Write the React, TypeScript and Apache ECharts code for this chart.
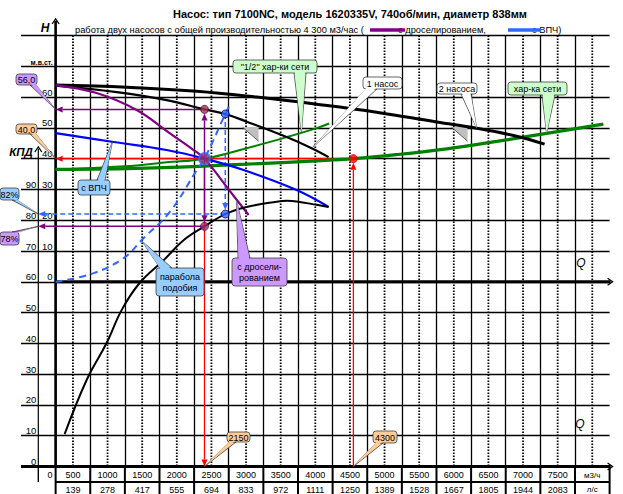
import React, { useEffect, useRef } from 'react';
import * as echarts from 'echarts';

type Pt = [number, number];

// Head curves: Q (м3/ч) -> H (м вод. ст.)
const twoPumpsCurve: Pt[] = [[0, 63.9], [1025, 63.2], [2036, 61.9], [2902, 60.0], [3769, 57.7], [4635, 55.1], [5502, 51.9], [6079, 49.9], [6657, 47.3], [7061, 44.7]];
const onePumpCurve: Pt[] = [[0, 63.7], [881, 61.6], [1603, 59.0], [2150, 56.0], [2450, 54.5], [2760, 52.0], [3336, 47.0], [3697, 43.4], [3942, 40.5]];
const throttledCurve: Pt[] = [[0, 63.9], [592, 61.3], [1170, 55.8], [1646, 48.3], [1993, 42.8], [2150, 40.0], [2498, 30.0], [2787, 21.7]];
const vfdCurve: Pt[] = [[0, 48.3], [838, 45.4], [1603, 42.8], [2150, 40.0], [2715, 36.3], [3480, 29.8], [3942, 24.3]];
const networkCurve: Pt[] = [[0, 36.5], [1310, 36.9], [2760, 38.2], [3770, 39.3], [4300, 40.0], [4920, 41.3], [5650, 43.2], [6370, 45.6], [7090, 48.2], [7910, 51.2]];
const halfNetworkCurve: Pt[] = [[0, 36.5], [1000, 37.5], [1600, 38.8], [2150, 40.0], [2760, 43.4], [3340, 47.0], [3770, 49.9], [3950, 51.4]];
const similarityParabola: Pt[] = [[0, 0], [549, 2.8], [982, 7.7], [1271, 14.2], [1646, 22.6], [2040, 36.3], [2150, 40.0], [2450, 54.5], [2513, 57.5]];
// Efficiency: Q (м3/ч) -> КПД (%)
const efficiencyCurve: Pt[] = [[130, 10.5], [448, 28.1], [736, 40.1], [953, 50.8], [1213, 59.6], [1560, 67.0], [1848, 73.5], [2150, 78], [2450, 82], [2758, 84.3], [3191, 86.0], [3340, 86.3], [3480, 86.1], [3769, 85.0], [3942, 84.3]];

// Operating points
const flowTotal = 4300;
const flowPerPump = 2150;
const headNetwork = 40;
const headThrottled = 56;
const flowVfdFull = 2450;
const headVfdFull = 54.5;
const effThrottled = 78;
const effVfd = 82;

// Flow scale printed under the grid
const flowM3h = [500, 1000, 1500, 2000, 2500, 3000, 3500, 4000, 4500, 5000, 5500, 6000, 6500, 7000, 7500];
const flowLs = [139, 278, 417, 555, 694, 833, 972, 1111, 1250, 1389, 1528, 1667, 1805, 1944, 2083];

const FONT = '"Liberation Sans", Arial, sans-serif';
const LAV = '#CC99FF';
const PEACH = '#FFCC99';
const SKY = '#99CCFF';
const MINT = '#CCFFCC';
const PURPLE = '#800080';
const DOT_PURPLE = '#993366';
const LIGHT_BLUE = '#3366FF';

const comma = (v: number) => v.toFixed(1).replace('.', ',');

export default function App() {
  const ref = useRef<HTMLDivElement>(null);

  useEffect(() => {
    const el = ref.current;
    if (!el) return;
    const chart = echarts.init(el, null, { renderer: 'svg' });

    const curve = (data: Pt[], color: string, width: number, yAxisIndex = 0, dash?: number[]) => ({
      type: 'line',
      data,
      yAxisIndex,
      symbol: 'none',
      showSymbol: false,
      smooth: 0.4,
      silent: true,
      z: 4,
      lineStyle: { color, width, type: dash ?? 'solid' },
    });

    const dot = (value: Pt, size: number, color: string, border: string, bw = 1) => ({
      value,
      symbolSize: size,
      itemStyle: { color, borderColor: border, borderWidth: bw },
    });

    chart.setOption({
      animation: false,
      backgroundColor: '#ffffff',
      grid: { left: 21, right: 13.4, top: 35.5, bottom: 27.5, containLabel: false, outerBoundsMode: 'none' },
      xAxis: {
        type: 'value', min: -500, max: 8000, interval: 500,
        axisLine: { show: false }, axisTick: { show: false }, axisLabel: { show: false },
        splitLine: { show: true, showMinLine: false, showMaxLine: false, lineStyle: { color: '#000', width: 1.3 } },
      },
      yAxis: [
        {
          type: 'value', min: -60, max: 80, interval: 10, position: 'left', offset: -34.6,
          axisLine: { show: false, onZero: false }, axisTick: { show: false },
          axisLabel: {
            margin: 3, verticalAlign: 'bottom', color: '#000', fontFamily: FONT, fontSize: 9.5,
            formatter: (v: number) => (v === 70 ? '{u|м.в.ст.}' : v >= 0 && v <= 60 ? String(v) : ''),
            rich: { u: { fontSize: 7, fontWeight: 'bold', fontFamily: FONT, color: '#000' } },
          },
          splitLine: { show: true, showMinLine: false, showMaxLine: true, lineStyle: { color: '#000', width: 1.3 } },
        },
        {
          type: 'value', min: 0, max: 140, interval: 10, position: 'left', offset: -17.3,
          axisLine: { show: false, onZero: false }, axisTick: { show: false },
          axisLabel: {
            margin: 2, verticalAlign: 'bottom', color: '#000', fontFamily: FONT, fontSize: 9.5,
            formatter: (v: number) => (v <= 90 ? String(v) : ''),
          },
          splitLine: { show: false },
        },
      ],
      series: [
        curve(networkCurve, '#008000', 3.2),
        curve(halfNetworkCurve, '#008000', 2),
        curve(twoPumpsCurve, '#000', 3),
        curve(onePumpCurve, '#000', 2.2),
        curve(throttledCurve, PURPLE, 2.2),
        curve(vfdCurve, '#0000FF', 2.2),
        curve(similarityParabola, LIGHT_BLUE, 2, 0, [7, 5]),
        curve(efficiencyCurve, '#000', 2, 1),
        {
          type: 'scatter', yAxisIndex: 0, z: 6, silent: true,
          data: [
            dot([flowPerPump, headThrottled], 8, DOT_PURPLE, '#660033'),
            dot([flowPerPump, headNetwork], 11, DOT_PURPLE, LIGHT_BLUE, 2),
            dot([flowTotal, headNetwork], 8, '#FF0000', '#CC0000'),
            dot([flowVfdFull, headVfdFull], 8, LIGHT_BLUE, '#000080'),
          ],
        },
        {
          type: 'scatter', yAxisIndex: 1, z: 6, silent: true,
          data: [
            dot([flowPerPump, effThrottled], 8, DOT_PURPLE, '#660033'),
            dot([flowVfdFull, effVfd], 8, LIGHT_BLUE, '#000080'),
          ],
        },
      ],
    });

    const P = (q: number, h: number) => chart.convertToPixel({ xAxisIndex: 0, yAxisIndex: 0 }, [q, h]) as number[];
    const K = (q: number, k: number) => chart.convertToPixel({ xAxisIndex: 0, yAxisIndex: 1 }, [q, k]) as number[];

    const g: any[] = [];
    const seg = (x1: number, y1: number, x2: number, y2: number, stroke: string, lineWidth: number, z = 2, lineDash?: number[]) => ({
      type: 'line', silent: true, z, shape: { x1, y1, x2, y2 }, style: { stroke, lineWidth, lineDash },
    });
    const chevron = (tx: number, ty: number, dx: number, dy: number, size = 5) => {
      const nx = -dy, ny = dx;
      return {
        type: 'polyline', silent: true, z: 2,
        shape: { points: [[tx - dx * size + nx * size * 0.7, ty - dy * size + ny * size * 0.7], [tx, ty], [tx - dx * size - nx * size * 0.7, ty - dy * size - ny * size * 0.7]] },
        style: { stroke: '#000', lineWidth: 1.3, fill: null },
      };
    };
    const text = (t: string, x: number, y: number, font: string, align = 'left', z = 10, fill = '#000') => ({
      type: 'text', silent: true, z, style: { text: t, x, y, font, fill, align, verticalAlign: 'middle' },
    });

    const top = P(0, 80)[1];
    const bottom = P(0, -60)[1];
    const yZero = P(0, 0)[1];
    const x0 = P(0, 0)[0];
    const xStart = P(-500, 0)[0];
    const xEnd = P(8000, 0)[0];
    const xKpd = P(-250, 0)[0];

    // dotted half-step verticals
    for (let q = 250; q < 8000; q += 500) {
      const x = P(q, 0)[0];
      g.push(seg(x, top, x, bottom, '#000', 1.8, 1, [1.5, 1.5]));
    }

    // axes with arrows
    g.push(seg(x0, bottom, x0, 21, '#000', 2.6));
    g.push(chevron(x0, 19, 0, -1));
    g.push(seg(xKpd, bottom, xKpd, 149, '#000', 1.2));
    g.push(chevron(xKpd, 147, 0, -1));
    g.push(seg(x0, yZero, xEnd + 1, yZero, '#000', 3));
    g.push(chevron(xEnd + 3, yZero, 1, 0));
    g.push(seg(xStart, bottom, xEnd + 1, bottom, '#000', 3));
    g.push(chevron(xEnd + 3, bottom, 1, 0));

    // flow scale table
    const rowSplit = bottom + 15.5;
    for (let q = 0; q <= 8000; q += 500) {
      const x = P(q, 0)[0];
      g.push(seg(x, bottom, x, 494, '#000', 2));
    }
    g.push(seg(xKpd, bottom, xKpd, rowSplit, '#000', 1.4));
    g.push(seg(x0, rowSplit, xEnd, rowSplit, '#000', 2));
    const row1 = bottom + 8.5;
    const row2 = rowSplit + 7.5;
    const cellFont = `9px ${FONT}`;
    g.push(text('0', x0 - 3, row1, cellFont, 'right'));
    flowM3h.forEach((v, i) => {
      const cx = (P(v - 500, 0)[0] + P(v, 0)[0]) / 2;
      g.push(text(String(v), cx, row1, cellFont, 'center'));
      g.push(text(String(flowLs[i]), cx, row2, cellFont, 'center'));
    });
    const unitX = (P(7500, 0)[0] + P(8000, 0)[0]) / 2;
    g.push(text('м3/ч', unitX, row1, `8px ${FONT}`, 'center'));
    g.push(text('л/с', unitX, row2, `8px ${FONT}`, 'center'));

    // axis names
    g.push(text('H', 45, 28, `bold italic 12px ${FONT}`, 'center'));
    g.push(text('КПД', 21, 152, `bold italic 11.5px ${FONT}`, 'center'));
    g.push(text('Q', 581, 263, `italic 12px ${FONT}`, 'center'));
    g.push(text('Q', 580, 424, `italic 12px ${FONT}`, 'center'));

    // title and legend row
    g.push(text('Насос: тип 7100NC, модель 1620335V, 740об/мин, диаметр 838мм', 350, 14, `bold 11px ${FONT}`, 'center'));
    g.push(text(`работа двух насосов с общей производительностью 4 300 м3/час (`, 75, 30, `9.3px ${FONT}`));
    g.push(text('с дроселированием,', 398, 30, `9.3px ${FONT}`));
    g.push(text('с ВПЧ)', 532, 30, `9.3px ${FONT}`));
    g.push(seg(370, 30, 405, 30, PURPLE, 3.5, 11));
    g.push(seg(508, 30, 541, 30, LIGHT_BLUE, 3.5, 11));

    // arrows between operating points and scales
    const arrow = (a: number[], b: number[], color: string, width: number, dash?: number[], shorten = 0) => {
      const dx = b[0] - a[0], dy = b[1] - a[1];
      const len = Math.hypot(dx, dy) || 1;
      const ux = dx / len, uy = dy / len;
      const tip = [b[0] - ux * shorten, b[1] - uy * shorten];
      const L = 7, W = 3;
      const base = [tip[0] - ux * L, tip[1] - uy * L];
      g.push(seg(a[0], a[1], base[0], base[1], color, width, 3, dash));
      g.push({
        type: 'polygon', silent: true, z: 3,
        shape: { points: [tip, [base[0] - uy * W, base[1] + ux * W], [base[0] + uy * W, base[1] - ux * W]] },
        style: { fill: color },
      });
    };
    arrow(P(flowTotal, headNetwork), P(0, headNetwork), '#FF0000', 1.3);
    arrow(P(flowPerPump, headNetwork), P(flowPerPump, -60), '#FF0000', 1.3);
    arrow(P(flowTotal, -60), P(flowTotal, headNetwork), '#FF0000', 1.3, undefined, 4);
    arrow(P(flowPerPump, headThrottled), P(0, headThrottled), PURPLE, 1.5);
    arrow(P(flowPerPump, headNetwork), P(flowPerPump, headThrottled), PURPLE, 1.5, undefined, 4);
    arrow(P(flowPerPump, headNetwork), K(flowPerPump, effThrottled), PURPLE, 1.5, undefined, 4);
    arrow(K(flowPerPump, effThrottled), K(-250, effThrottled), PURPLE, 1.5);
    arrow(P(flowVfdFull, headVfdFull), K(flowVfdFull, effVfd), LIGHT_BLUE, 1.5, [5, 3], 4);
    arrow(K(flowVfdFull, effVfd), K(-250, effVfd), LIGHT_BLUE, 1.5, [5, 3]);

    // small shaded wedges
    const wedge = (at: number[]) => {
      const [x, y] = at;
      g.push({ type: 'polygon', silent: true, z: 3, shape: { points: [[x, y], [x + 16, y], [x + 16, y + 14]] }, style: { fill: '#C0C0C0' } });
      g.push(seg(x, y, x + 16, y + 14, '#404040', 0.8, 3));
    };
    wedge(P(2700, 50.2));
    wedge(P(5718, 50.2));

    // callouts
    type Callout = { text: string; box: number[]; base: number[]; tip: number[]; fill: string; lh?: number };
    const callouts: Callout[] = [
      { text: comma(headThrottled), box: [16, 74, 21, 11], base: [30, 85, 36, 85], tip: P(0, headThrottled), fill: LAV },
      { text: comma(headNetwork), box: [16, 124, 21, 10], base: [30, 134, 36, 134], tip: P(0, headNetwork), fill: PEACH },
      { text: `${effVfd}%`, box: [0, 188, 19, 12], base: [12, 200, 17, 200], tip: K(-250, effVfd), fill: SKY },
      { text: `${effThrottled}%`, box: [0, 232, 19, 13], base: [12, 232, 17, 232], tip: K(-250, effThrottled), fill: LAV },
      { text: 'с ВПЧ', box: [78, 180, 32, 15], base: [97, 180, 105, 180], tip: P(820, 45.5), fill: SKY },
      { text: 'парабола\nподобия', box: [156, 268, 48, 28], base: [160, 268, 172, 268], tip: P(1240, 13.4), fill: SKY, lh: 11 },
      { text: 'с дросели-\nрованием', box: [232, 258, 55, 28], base: [238, 258, 250, 258], tip: P(2610, 26.8), fill: LAV, lh: 11 },
      { text: '"1/2" хар-ки сети', box: [233, 60, 84, 13], base: [294, 73, 306, 73], tip: P(3550, 48.4), fill: MINT },
      { text: '1 насос', box: [363, 77, 39, 12], base: [366, 89, 377, 89], tip: P(3700, 43.4), fill: '#FFFFFF' },
      { text: '2 насоса', box: [437, 83, 40, 11], base: [461, 94, 471, 94], tip: P(6080, 49.9), fill: '#FFFFFF' },
      { text: 'хар-ка сети', box: [508, 82, 59, 13], base: [542, 95, 555, 95], tip: P(7090, 48.2), fill: MINT },
      { text: String(flowPerPump), box: [227, 432, 23, 10], base: [229, 442, 236, 442], tip: P(flowPerPump, -60), fill: PEACH },
      { text: String(flowTotal), box: [373, 431, 24, 12], base: [376, 443, 383, 443], tip: P(flowTotal, -60), fill: PEACH },
    ];
    callouts.forEach((c) => {
      const [bx, by, bw, bh] = c.box;
      const [x1, y1, x2, y2] = c.base;
      const horizontal = y1 === y2;
      const inward = horizontal ? (y1 <= by + 0.5 ? 1.3 : -1.3) : 0;
      g.push({ type: 'polygon', silent: true, z: 8, z2: 0, shape: { points: [[x1, y1], [x2, y2], c.tip] }, style: { fill: c.fill, stroke: '#404040', lineWidth: 0.8 } });
      g.push({ type: 'rect', silent: true, z: 8, z2: 1, shape: { x: bx, y: by, width: bw, height: bh, r: 3 }, style: { fill: c.fill, stroke: '#404040', lineWidth: 0.8 } });
      g.push({ type: 'polygon', silent: true, z: 8, z2: 2, shape: { points: [[x1 + 0.7, y1 + inward], [x2 - 0.7, y2 + inward], [c.tip[0], c.tip[1]]] }, style: { fill: c.fill } });
      g.push({
        type: 'text', silent: true, z: 8, z2: 3,
        style: { text: c.text, x: bx + bw / 2, y: by + bh / 2 + 0.5, font: `9px ${FONT}`, fill: '#000', align: 'center', verticalAlign: 'middle', lineHeight: c.lh ?? 11 },
      });
    });

    chart.setOption({ graphic: g });

    return () => chart.dispose();
  }, []);

  return (
    <div
      ref={ref}
      style={{ position: 'fixed', left: 0, top: 0, width: 623, height: 494, background: '#fff' }}
    />
  );
}
